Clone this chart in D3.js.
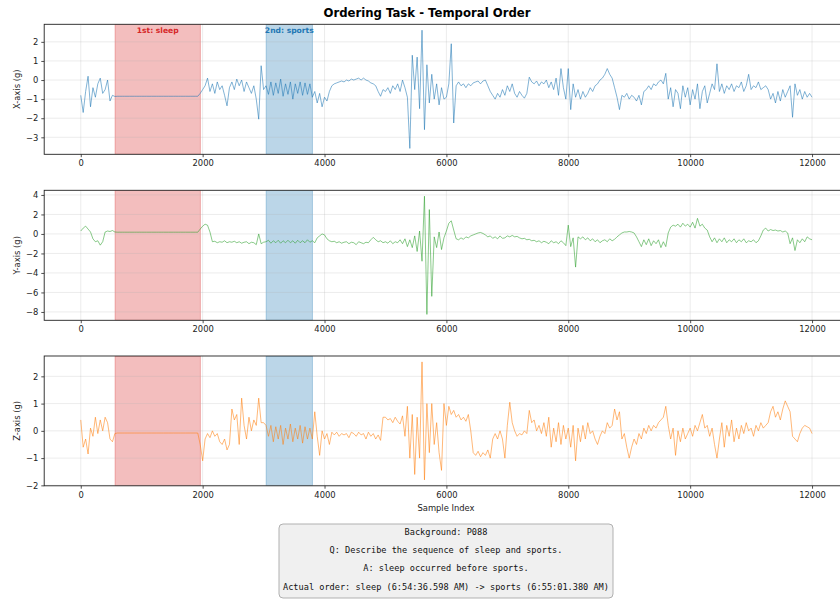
<!DOCTYPE html>
<html>
<head>
<meta charset="utf-8">
<script src="https://cdn.jsdelivr.net/npm/d3@7"></script>
<style>
body{margin:0;background:#fff;}
svg{display:block;font-family:"DejaVu Sans",sans-serif;}
</style>
</head>
<body>
<script>
'use strict'
// one stored reading every `step` samples
var step = 40;

var accX = [
 -0.8,-1.7,-0.6,0.2,-1.4,-0.4,-0.9,-0.2,0.1,-0.7,-0.5,0.0,-1.1,-0.8,-0.86,-0.85,-0.85,-0.85,-0.85,-0.85,-0.85,-0.85,-0.85,-0.85,-0.85,
 -0.85,-0.85,-0.85,-0.85,-0.85,-0.85,-0.85,-0.85,-0.85,-0.85,-0.85,-0.85,-0.85,-0.85,-0.85,-0.85,-0.85,-0.85,-0.85,-0.85,-0.85,-0.85,-0.85,-0.85,-0.7,
 -0.5,-0.3,0.1,-0.6,-0.2,-0.7,-0.1,-0.5,-0.3,-0.8,-1.35,-0.4,-0.1,-0.5,0.05,-0.3,0.0,-0.6,-0.1,-0.4,-0.7,-0.3,-1.0,-2.05,0.75,
 -0.5,-0.3,-0.75,-0.1,-0.8,-0.15,-0.7,0.05,-0.85,-0.2,-0.75,-0.1,-1.0,-0.2,-0.7,-0.1,-0.8,-0.15,-0.75,-0.2,-0.9,-0.6,-1.2,-0.7,-1.4,
 -0.9,-1.1,-0.6,-0.3,-0.2,-0.15,-0.1,-0.05,-0.1,0.0,-0.05,0.05,0.0,0.05,0.1,0.0,0.1,0.0,-0.05,-0.15,-0.2,-0.3,-0.6,-0.85,-0.5,
 -0.6,-0.4,-0.7,-0.3,-0.5,-0.2,-0.6,0.0,-0.4,-0.9,-3.58,1.3,-0.5,1.2,-1.5,2.61,-2.6,0.8,-1.2,0.3,-1.0,-0.2,-1.3,-0.4,-1.0,
 -0.9,-0.2,1.9,-2.25,-0.3,-0.1,-0.3,-0.2,-0.4,-0.2,-0.3,-0.15,-0.1,-0.05,-0.2,-0.05,0.0,-0.3,-0.6,-0.8,-1.0,-0.7,-0.9,-0.5,-0.8,
 -0.3,-0.6,-0.2,-0.7,-0.9,-0.6,-0.8,-0.95,-0.7,0.15,-0.1,-0.2,-0.05,-0.3,-0.1,-0.2,0.0,-0.4,-0.1,-0.5,0.1,-0.8,0.6,-0.4,-1.0,
 0.6,-1.55,-0.2,-0.9,-0.5,-1.0,-0.6,-0.9,-0.7,-0.4,-0.6,-0.3,-0.2,0.0,0.1,0.3,0.6,0.3,0.1,-0.4,-0.9,-1.55,-0.8,-0.9,-0.7,
 -1.0,-0.8,-0.9,-1.1,-0.8,-1.3,-0.6,-0.5,-0.3,-0.5,-0.2,-0.3,-0.1,0.0,-0.2,0.35,-1.0,-0.4,-1.4,-0.5,-0.7,-1.5,-0.3,-0.9,-0.4,
 -1.3,-0.5,-1.0,-0.2,-1.5,-0.6,-0.3,-1.2,-0.7,-0.2,-0.5,0.85,-0.6,-0.2,-0.7,-0.3,-0.5,-0.2,-0.6,-0.3,-0.4,-0.1,-0.6,-0.3,0.3,
 -0.5,-0.3,-0.4,-0.1,-0.5,-0.4,-0.3,-0.5,-1.0,-0.7,-1.2,-0.6,-1.1,-0.5,-0.9,-0.6,-0.3,-1.95,-0.2,-0.8,-0.5,-1.0,-0.6,-0.9,-0.7,-0.9
];

var accY = [
 0.3,0.6,0.8,0.5,0.2,-0.5,-0.8,-0.7,-1.15,-0.8,0.2,0.3,0.25,0.35,0.2,0.18,0.18,0.18,0.18,0.18,0.18,0.18,0.18,0.18,0.18,
 0.18,0.18,0.18,0.18,0.18,0.18,0.18,0.18,0.18,0.18,0.18,0.18,0.18,0.18,0.18,0.18,0.18,0.18,0.18,0.18,0.18,0.18,0.18,0.18,0.5,
 0.8,1.0,0.9,0.2,-0.8,-0.75,-0.9,-0.8,-0.85,-0.7,-0.9,-0.8,-0.85,-0.75,-0.9,-0.8,-0.95,-0.85,-0.8,-1.0,-0.85,-0.9,-1.1,0.0,-1.0,
 -0.85,-0.8,-0.65,-0.95,-0.7,-0.9,-0.65,-0.95,-0.7,-0.9,-0.65,-0.9,-0.7,-0.95,-0.65,-0.9,-0.7,-0.9,-0.6,-0.85,-0.7,-0.9,-0.4,-0.2,0.0,
 -0.1,-0.5,-0.7,-0.8,-0.75,-0.9,-0.8,-0.95,-0.85,-0.8,-1.0,-0.85,-0.9,-1.1,-0.8,-0.9,-1.0,-0.85,-0.9,-0.6,-0.35,-0.6,-0.8,-0.7,-0.9,
 -0.8,-0.95,-0.7,-1.0,-0.8,-0.9,-0.6,-1.0,-0.5,-1.3,-0.6,-1.4,-0.2,-1.8,0.3,-2.8,3.87,-8.25,2.5,-6.4,-0.3,-1.4,0.2,-1.6,-0.4,
 0.3,1.1,1.35,0.4,-0.5,-0.6,-0.4,-0.55,-0.3,-0.4,-0.2,-0.1,0.0,0.1,0.15,0.05,-0.1,-0.3,-0.2,-0.45,-0.3,-0.5,-0.2,-0.45,-0.4,
 -0.2,-0.3,-0.15,-0.3,-0.25,-0.4,-0.5,-0.45,-0.6,-0.55,-0.7,-0.65,-0.8,-0.7,-0.9,-0.75,-0.85,-1.0,-0.7,-0.9,-0.8,-1.0,-0.7,-0.9,-1.2,
 0.9,-1.3,-0.4,-3.4,-0.3,-0.5,-0.3,-0.6,-0.4,-0.7,-0.5,-0.8,-0.6,-0.9,-0.7,-0.6,-0.8,-0.5,-0.7,-0.55,-0.3,-0.1,0.1,0.2,0.2,
 0.25,0.2,0.1,-0.3,-0.8,-1.3,-0.6,-1.1,-0.5,-1.2,-0.7,-1.0,-0.6,-1.4,-0.8,-1.3,0.1,0.7,0.9,0.8,1.0,0.7,1.1,0.8,1.0,
 0.7,1.2,0.6,1.6,0.8,1.0,0.6,0.4,-0.3,-0.8,-0.4,-0.9,-0.5,-0.8,-0.4,-0.9,-0.6,-0.8,-0.5,-0.9,-0.6,-0.8,-0.5,-0.9,-0.7,
 -0.8,-0.6,-0.9,-0.7,-0.2,0.4,0.6,0.3,0.45,0.35,0.4,0.3,0.35,0.2,0.3,0.1,-1.0,-0.4,-1.7,-0.6,-0.9,-0.5,-0.8,-0.3,-0.5,-0.6
];

var accZ = [
 0.4,-0.6,-0.3,-0.85,0.1,-0.2,0.5,-0.1,0.4,0.0,0.5,0.3,-0.3,-0.4,-0.1,-0.08,-0.08,-0.08,-0.08,-0.08,-0.08,-0.08,-0.08,-0.08,-0.08,
 -0.08,-0.08,-0.08,-0.08,-0.08,-0.08,-0.08,-0.08,-0.08,-0.08,-0.08,-0.08,-0.08,-0.08,-0.08,-0.08,-0.08,-0.08,-0.08,-0.08,-0.08,-0.08,-0.08,-0.08,-0.5,
 -1.1,-0.3,-0.1,-0.25,0.0,-0.2,-0.1,-0.4,-0.5,-0.3,-0.7,-0.5,0.8,0.4,0.6,-0.5,1.2,0.2,-0.3,0.5,0.0,0.4,0.2,1.2,0.3,
 0.3,0.2,-0.2,0.2,-0.4,0.15,-0.3,0.2,-0.5,0.1,-0.3,0.25,-0.4,0.1,-0.3,0.2,-0.45,0.15,-0.3,0.1,-0.3,0.7,-0.2,-0.9,0.0,
 -0.3,-0.1,-0.5,-0.05,-0.15,-0.05,-0.2,-0.1,-0.15,-0.1,-0.25,-0.05,-0.1,-0.2,-0.05,-0.15,-0.1,-0.3,-0.05,-0.2,-0.1,-0.3,-0.15,-0.35,0.5,
 0.5,0.4,0.45,0.3,0.5,0.35,0.25,0.55,-0.2,0.9,-1.0,0.6,-1.6,0.5,-1.0,2.53,-1.8,1.0,-0.8,1.0,-0.5,0.3,-0.8,-1.45,1.0,
 0.2,0.9,0.6,0.75,0.5,0.6,0.4,0.5,0.35,0.6,0.0,-0.8,-0.9,-0.75,-0.95,-0.8,-0.9,-0.7,-1.0,-0.3,-0.1,-0.3,0.0,-0.3,-1.0,
 0.2,1.05,0.3,0.0,-0.2,-0.1,-0.15,0.0,-0.1,0.75,0.3,0.4,0.0,0.2,-0.1,0.3,-0.2,0.5,-0.6,0.1,-0.4,0.3,-0.5,0.2,-0.3,
 0.1,-0.6,0.2,-1.1,0.1,-0.4,0.2,-0.3,0.3,-0.1,0.0,-0.3,-0.5,-0.2,0.0,-0.1,0.3,0.1,0.2,0.8,0.4,0.7,-0.3,-0.1,-0.6,
 -1.0,-0.6,-0.3,-0.5,-0.1,-0.3,0.1,-0.1,0.2,0.0,0.2,0.1,0.3,0.4,0.5,0.9,0.2,-0.3,0.1,-0.9,0.0,-0.4,0.1,-0.3,-0.1,
 0.1,-0.2,0.2,0.0,0.3,0.6,0.1,0.2,-0.2,0.1,-0.5,-1.0,-0.3,0.3,-0.6,0.2,-0.2,0.4,-0.4,0.1,-0.3,0.2,-0.1,0.3,0.0,
 0.1,-0.2,0.2,0.0,0.3,0.1,0.2,0.3,0.7,0.9,0.5,0.7,0.4,0.8,1.1,0.9,0.7,-0.2,-0.3,-0.4,-0.1,0.1,0.2,0.15,0.1,-0.1
];

var sleepSpan = [563, 1963];
var sportsSpan = [3042, 3802];
var xTicks = [0, 2000, 4000, 6000, 8000, 10000, 12000];
var infoLines = [
 "Background: P088",
 "Q: Describe the sequence of sleep and sports.",
 "A: sleep occurred before sports.",
 "Actual order: sleep (6:54:36.598 AM) -> sports (6:55:01.380 AM)"
];

var width = 840, height = 600;
var tickLen = 2.9, tickFont = 8.4;

var svg = d3.select("body").append("svg")
 .attr("width", width)
 .attr("height", height);

var x = d3.scaleLinear().domain([-600, 12600]).range([44.2, 848.6]);

var panels = [
 {data: accX, color: "#1f77b4", label: "X-axis (g)", top: 24.3, bottom: 154.3},
 {data: accY, color: "#2ca02c", label: "Y-axis (g)", top: 190.3, bottom: 320.3},
 {data: accZ, color: "#ff7f0e", label: "Z-axis (g)", top: 356, bottom: 485.8}
];

var spans = [
 {range: sleepSpan, color: "#d62728", text: "1st: sleep"},
 {range: sportsSpan, color: "#1f77b4", text: "2nd: sports"}
];

panels.forEach(function(p, k) {
 // matplotlib style 5% padding around the data
 var ext = d3.extent(p.data);
 var pad = (ext[1] - ext[0]) * 0.05;
 var y = d3.scaleLinear().domain([ext[0] - pad, ext[1] + pad]).range([p.bottom, p.top]);
 var yTicks = y.ticks(6);
 var x0 = x.range()[0], x1 = x.range()[1];

 var g = svg.append("g");

 g.append("clipPath").attr("id", "clip" + k)
  .append("rect").attr("x", x0).attr("y", p.top).attr("width", x1 - x0).attr("height", p.bottom - p.top);

 var plot = g.append("g").attr("clip-path", "url(#clip" + k + ")");

 // event spans under everything
 spans.forEach(function(s) {
  plot.append("rect")
   .attr("x", x(s.range[0]))
   .attr("y", p.top)
   .attr("width", x(s.range[1]) - x(s.range[0]))
   .attr("height", p.bottom - p.top)
   .attr("fill", s.color).attr("fill-opacity", 0.3)
   .attr("stroke", s.color).attr("stroke-opacity", 0.3).attr("stroke-width", 1);
 });

 // grid
 plot.selectAll("line.gx").data(xTicks).enter().append("line")
  .attr("x1", d => x(d)).attr("x2", d => x(d))
  .attr("y1", p.top).attr("y2", p.bottom)
  .attr("stroke", "#b0b0b0").attr("stroke-opacity", 0.3).attr("stroke-width", 0.8);
 plot.selectAll("line.gy").data(yTicks).enter().append("line")
  .attr("x1", x0).attr("x2", x1)
  .attr("y1", d => y(d)).attr("y2", d => y(d))
  .attr("stroke", "#b0b0b0").attr("stroke-opacity", 0.3).attr("stroke-width", 0.8);

 var line = d3.line()
  .x((d, i) => x(i * step))
  .y(d => y(d));

 plot.append("path")
  .datum(p.data)
  .attr("d", line)
  .attr("fill", "none")
  .attr("stroke", p.color)
  .attr("stroke-width", 0.7)
  .attr("stroke-opacity", 0.8)
  .attr("stroke-linejoin", "round");

 // frame
 g.append("rect")
  .attr("x", x0).attr("y", p.top)
  .attr("width", x1 - x0).attr("height", p.bottom - p.top)
  .attr("fill", "none").attr("stroke", "#222").attr("stroke-width", 0.9);

 var xAxis = d3.axisBottom(x).tickValues(xTicks).tickFormat(d3.format("d"))
  .tickSize(tickLen).tickPadding(2.9);
 var yAxis = d3.axisLeft(y).tickValues(yTicks).tickFormat(d3.format("d"))
  .tickSize(tickLen).tickPadding(2.9);

 var ax = g.append("g").attr("transform", "translate(0," + p.bottom + ")").call(xAxis);
 var ay = g.append("g").attr("transform", "translate(" + x0 + ",0)").call(yAxis);
 [ax, ay].forEach(function(a) {
  a.select(".domain").remove();
  a.selectAll(".tick line").attr("stroke", "#222").attr("stroke-width", 0.8);
  a.selectAll(".tick text").attr("fill", "#222").style("font-size", tickFont + "px")
   .style("font-family", "DejaVu Sans");
 });

 g.append("text")
  .attr("transform", "translate(19.6," + (p.top + p.bottom) / 2 + ") rotate(-90)")
  .attr("text-anchor", "middle")
  .style("font-size", tickFont + "px")
  .attr("fill", "#222")
  .text(p.label);

 // span labels only on the first panel
 if (k === 0) {
  spans.forEach(function(s) {
   g.append("text")
    .attr("x", x((s.range[0] + s.range[1]) / 2))
    .attr("y", p.top + 9)
    .attr("text-anchor", "middle")
    .style("font-size", "7.6px")
    .style("font-weight", "bold")
    .attr("fill", s.color)
    .text(s.text);
  });
 }
});

svg.append("text")
 .attr("x", 446).attr("y", 510.7)
 .attr("text-anchor", "middle")
 .style("font-size", tickFont + "px")
 .attr("fill", "#222")
 .text("Sample Index");

svg.append("text")
 .attr("x", 427).attr("y", 16.5)
 .attr("text-anchor", "middle")
 .style("font-size", "11.7px")
 .style("font-weight", "bold")
 .text("Ordering Task - Temporal Order");

// info box
var box = svg.append("g");
box.append("rect")
 .attr("x", 279).attr("y", 524)
 .attr("width", 334).attr("height", 74)
 .attr("rx", 4).attr("ry", 4)
 .attr("fill", "#f0f0f0").attr("stroke", "#a8a8a8").attr("stroke-width", 0.9);
box.selectAll("text").data(infoLines).enter().append("text")
 .attr("x", 446)
 .attr("y", (d, i) => 534.5 + i * 18.35)
 .attr("text-anchor", "middle")
 .style("font-family", "DejaVu Sans Mono")
 .style("font-size", "8.6px")
 .attr("fill", "#111")
 .text(d => d);
</script>
</body>
</html>
